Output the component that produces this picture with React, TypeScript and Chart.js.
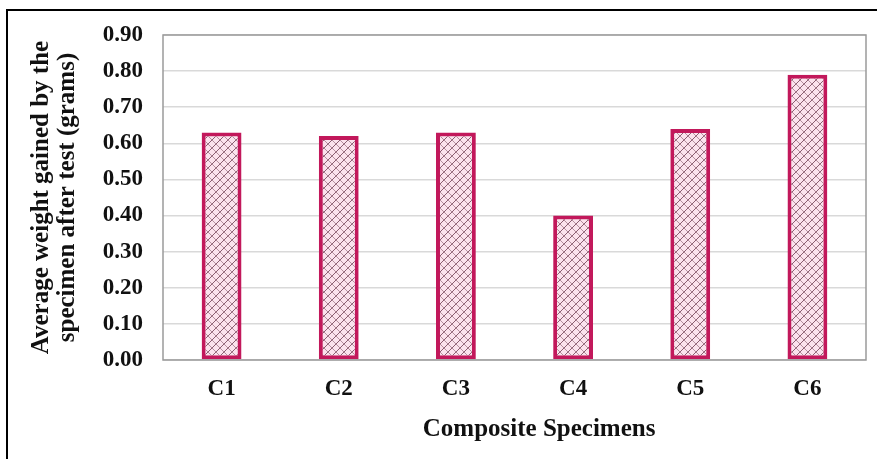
import React, { useEffect, useRef } from "react";
import { Chart, registerables } from "chart.js";

Chart.register(...registerables);

const categories = ["C1", "C2", "C3", "C4", "C5", "C6"];
const weightGained = [0.63, 0.62, 0.63, 0.4, 0.64, 0.79];
const yTitle = ["Average weight gained by the", "specimen after test (grams)"];
const xTitle = "Composite Specimens";

const FONT = "'Liberation Serif', 'Times New Roman', serif";

function makePattern(): CanvasPattern | string {
  const c = document.createElement("canvas");
  c.width = 8;
  c.height = 8;
  const g = c.getContext("2d");
  if (!g) return "#f6dbe6";
  g.fillStyle = "#fbe2ed";
  g.fillRect(0, 0, 8, 8);
  g.strokeStyle = "rgba(110,60,80,0.8)";
  g.lineWidth = 1;
  g.beginPath();
  g.moveTo(0, 8);
  g.lineTo(8, 0);
  g.moveTo(-1, 1);
  g.lineTo(1, -1);
  g.moveTo(7, 9);
  g.lineTo(9, 7);
  g.stroke();
  g.strokeStyle = "rgba(110,60,80,0.5)";
  g.beginPath();
  g.moveTo(0, 0);
  g.lineTo(8, 8);
  g.stroke();
  const p = g.createPattern(c, "repeat");
  return p || "#f6dbe6";
}

const framePlugin = {
  id: "frame",
  afterDatasetsDraw(chart: any) {
    const { ctx, chartArea } = chart;
    ctx.save();
    ctx.strokeStyle = "#9a9a9a";
    ctx.lineWidth = 1.5;
    ctx.strokeRect(chartArea.left, chartArea.top, chartArea.right - chartArea.left, chartArea.bottom - chartArea.top);
    ctx.restore();
  },
  afterDraw(chart: any) {
    const { ctx, chartArea } = chart;
    ctx.save();
    ctx.fillStyle = "#111";
    ctx.font = `bold 25px ${FONT}`;
    ctx.textAlign = "center";
    ctx.textBaseline = "middle";
    ctx.fillText(xTitle, chartArea.left + (chartArea.right - chartArea.left) * 0.535, 430);
    ctx.strokeStyle = "#000";
    ctx.lineWidth = 2;
    ctx.beginPath();
    ctx.moveTo(7, 459);
    ctx.lineTo(7, 10);
    ctx.lineTo(877, 10);
    ctx.stroke();
    ctx.restore();
  },
};

export default function App() {
  const ref = useRef<HTMLCanvasElement>(null);
  useEffect(() => {
    if (!ref.current) return;
    const pattern = makePattern();
    const chart = new Chart(ref.current, {
      type: "bar",
      data: {
        labels: categories,
        datasets: [
          {
            data: weightGained,
            backgroundColor: pattern as any,
            borderColor: "#c2185b",
            borderWidth: 4,
            borderSkipped: false,
            categoryPercentage: 1,
            barPercentage: 0.34,
          },
        ],
      },
      options: {
        animation: false,
        responsive: false,
        maintainAspectRatio: false,
        layout: { padding: { left: 29, top: 35, right: 11, bottom: 0 } },
        plugins: { legend: { display: false }, tooltip: { enabled: false } },
        scales: {
          x: {
            grid: { display: false, drawTicks: false },
            border: { display: false },
            ticks: { color: "#111", font: { family: FONT, size: 23, weight: "bold" }, padding: 15 },
            afterFit: (s: any) => {
              s.height = 99;
            },
          },
          y: {
            min: 0,
            max: 0.9,
            ticks: {
              stepSize: 0.1,
              color: "#111",
              font: { family: FONT, size: 23, weight: "bold" },
              padding: 20,
              callback: (v: any) => Number(v).toFixed(2),
            },
            grid: { color: "#d9d9d9", lineWidth: 1.5, drawTicks: false },
            border: { display: false },
            title: {
              display: true,
              text: yTitle,
              color: "#111",
              font: { family: FONT, size: 25, weight: "bold", lineHeight: "26px" },
              padding: { top: 0, bottom: 0 },
            },
            afterFit: (s: any) => {
              s.width = 134;
            },
          },
        },
      },
      plugins: [framePlugin],
    });
    return () => chart.destroy();
  }, []);
  return (
    <div style={{ position: "fixed", left: 0, top: 0, width: 877, height: 459, background: "#fff" }}>
      <canvas ref={ref} width={877} height={459} style={{ width: 877, height: 459, display: "block" }} />
    </div>
  );
}
